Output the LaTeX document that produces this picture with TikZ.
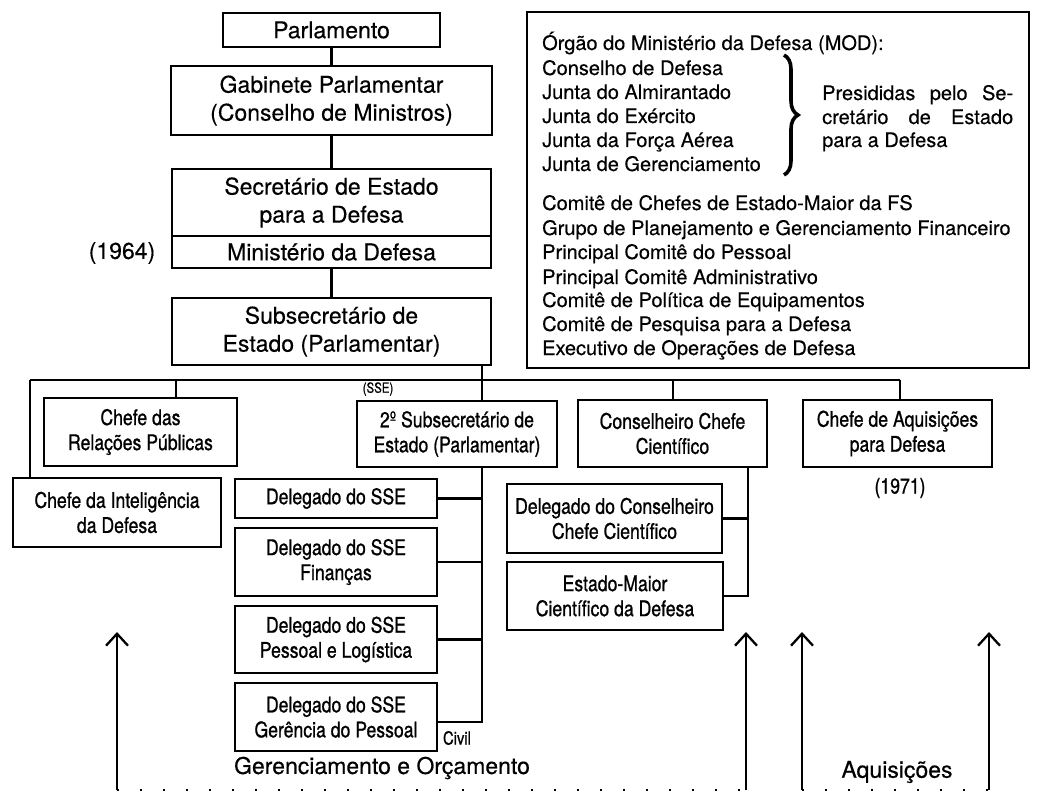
\documentclass[tikz,border=0pt]{standalone}
\usepackage{fontspec}
\setmainfont[FakeBold=0.35]{TeX Gyre Heros}
\newfontfamily\cond[FakeStretch=0.82,FakeBold=0.9]{TeX Gyre Heros}
\usetikzlibrary{arrows.meta,decorations.pathreplacing}
\begin{document}
\begin{tikzpicture}[x=1pt,y=-1pt,
  frame/.style={draw,line width=2.6pt,inner sep=0pt},
  ubox/.style={frame,align=center,font=\fontsize{23}{28}\selectfont},
  lbox/.style={frame,align=center,font=\cond\fontsize{21.5}{25}\selectfont},
  conn/.style={line width=2.3pt},
  arr/.style={line width=2.3pt,-{Straight Barb[length=12pt,width=22pt,line width=2.3pt]}},
  dots/.style={line width=2.4pt,dash pattern=on 2pt off 21pt},
  modtxt/.style={anchor=base west,inner sep=0pt,font=\fontsize{20}{24}\selectfont},
  lbl/.style={inner sep=0pt}]
\fill[white] (0,0) rectangle (1048,799);
\useasboundingbox (0,0) rectangle (1048,799);

% upper chain
\node[ubox,minimum width=217pt,minimum height=34pt] (parl) at (331.5,30) {Parlamento};
\node[ubox,minimum width=321pt,minimum height=69pt] (gab) at (331.5,100.5) {Gabinete Parlamentar\\(Conselho de Ministros)};
\node[ubox,minimum width=319pt,minimum height=67pt] (sec) at (331.5,202.5) {Secretário de Estado\\para a Defesa};
\node[ubox,minimum width=319pt,minimum height=32pt] (mini) at (331.5,252) {Ministério da Defesa};
\node[ubox,minimum width=319pt,minimum height=67pt] (sub) at (331.5,331.5) {Subsecretário de\\Estado (Parlamentar)};
\node[lbl,font=\fontsize{23}{28}\selectfont] (y64) at (122,253) {(1964)};

\draw[conn] (parl.south) -- (gab.north);
\draw[conn] (gab.south) -- (sec.north);
\draw[conn] (mini.south) -- (sub.north);

% MOD box
\node[frame,minimum width=502pt,minimum height=356pt] (mod) at (778,190) {};
\foreach \t/\yy in {{Órgão do Ministério da Defesa (MOD):}/50,
  {Conselho de Defesa}/75,{Junta do Almirantado}/99,{Junta do Exército}/123,
  {Junta da Força Aérea}/147,{Junta de Gerenciamento}/171,
  {Comitê de Chefes de Estado-Maior da FS}/210,
  {Grupo de Planejamento e Gerenciamento Financeiro}/235,
  {Principal Comitê do Pessoal}/259,{Principal Comitê Administrativo}/284,
  {Comitê de Política de Equipamentos}/307,{Comitê de Pesquisa para a Defesa}/331,
  {Executivo de Operações de Defesa}/355}
  \node[modtxt] at (542,\yy) {\t};
\coordinate (brT) at (784,55);
\coordinate (brB) at (784,175);
\draw[line width=3.6pt,decorate,decoration={brace,amplitude=14pt}] (brT) -- (brB);
\node[modtxt] (pres1) at (822,100) {\makebox[191pt][s]{Presididas pelo Se-}};
\node[modtxt] (pres2) at (822,124) {\makebox[191pt][s]{cretário de Estado}};
\node[modtxt] (pres3) at (822,147) {para a Defesa};

% bus
\coordinate (busL) at (30,380);
\coordinate (busR) at (900,380);
\coordinate (b1) at (176,380);
\coordinate (b3) at (673,380);
\coordinate (sx) at (482,0);
\coordinate (cx) at (748,0);
\draw[conn] (busL) -- (busR);

% second row
\node[lbox,minimum width=193pt,minimum height=68pt] (rp) at (140.5,432) {Chefe das\\Relações Públicas};
\node[lbox,minimum width=208pt,minimum height=69pt] (intel) at (117,512.5) {Chefe da Inteligência\\da Defesa};
\node[lbox,minimum width=200pt,minimum height=66pt] (sub2) at (457,434) {2º Subsecretário de\\Estado (Parlamentar)};
\node[lbox,minimum width=189pt,minimum height=67pt] (ccc) at (672.5,433.5) {Conselheiro Chefe\\Científico};
\node[lbox,minimum width=189pt,minimum height=67pt] (acq) at (897.5,433.5) {Chefe de Aquisições\\para Defesa};
\node[lbl,font=\cond\fontsize{21.5}{25}\selectfont] (y71) at (900,488) {(1971)};
\node[lbl,font=\cond\fontsize{14}{14}\selectfont] (sse) at (378,389) {(SSE)};

\draw[conn] (busL) -- (busL |- intel.north);
\draw[conn] (b1) -- (b1 |- rp.north);
\draw[conn] (sub.south -| sx) -- (sub2.north -| sx);
\draw[conn] (b3) -- (b3 |- ccc.north);
\draw[conn] (busR) -- (busR |- acq.north);

% delegados SSE
\node[lbox,minimum width=202pt,minimum height=39pt] (d1) at (336,498.5) {Delegado do SSE};
\node[lbox,minimum width=202pt,minimum height=68pt] (d2) at (336,562) {Delegado do SSE\\Finanças};
\node[lbox,minimum width=202pt,minimum height=67pt] (d3) at (336,639.5) {Delegado do SSE\\Pessoal e Logística};
\node[lbox,minimum width=202pt,minimum height=68pt] (d4) at (336,717) {Delegado do SSE\\Gerência do Pessoal};
\node[lbl,font=\cond\fontsize{18}{18}\selectfont] (civil) at (457,738) {Civil};
\coordinate (d4c) at (482,722);
\draw[conn] (sub2.south -| sx) -- (d4c) -- (d4.east |- d4c);
\draw[conn] (d1.east) -- (d1.east -| sx);
\draw[conn] (d2.east) -- (d2.east -| sx);
\draw[conn] (d3.east) -- (d3.east -| sx);

% CCC subordinates
\node[lbox,minimum width=215pt,minimum height=69pt] (dccc) at (614.5,518.5) {Delegado do Conselheiro\\Chefe Científico};
\node[lbox,minimum width=216pt,minimum height=68pt] (em) at (615,596) {Estado-Maior\\Científico da Defesa};
\draw[conn] (ccc.south -| cx) -- (em.east -| cx) -- (em.east);
\draw[conn] (dccc.east) -- (dccc.east -| cx);

% arrows and bottom labels
\coordinate (a1b) at (117,790); \coordinate (a1t) at (117,632);
\coordinate (a2b) at (746,790); \coordinate (a2t) at (746,632);
\coordinate (a3b) at (802,790); \coordinate (a3t) at (802,632);
\coordinate (a4b) at (989,790); \coordinate (a4t) at (989,632);
\draw[arr] (a1b) -- (a1t);
\draw[arr] (a2b) -- (a2t);
\draw[arr] (a3b) -- (a3t);
\draw[arr] (a4b) -- (a4t);
\draw[dots] (a1b) -- (a2b);
\draw[dots] (a3b) -- (a4b);
\node[lbl,font=\fontsize{23}{28}\selectfont] (gerorc) at (382,768) {Gerenciamento e Orçamento};
\node[lbl,font=\fontsize{23}{28}\selectfont] (aquis) at (897,772) {Aquisições};
\end{tikzpicture}
\end{document}
